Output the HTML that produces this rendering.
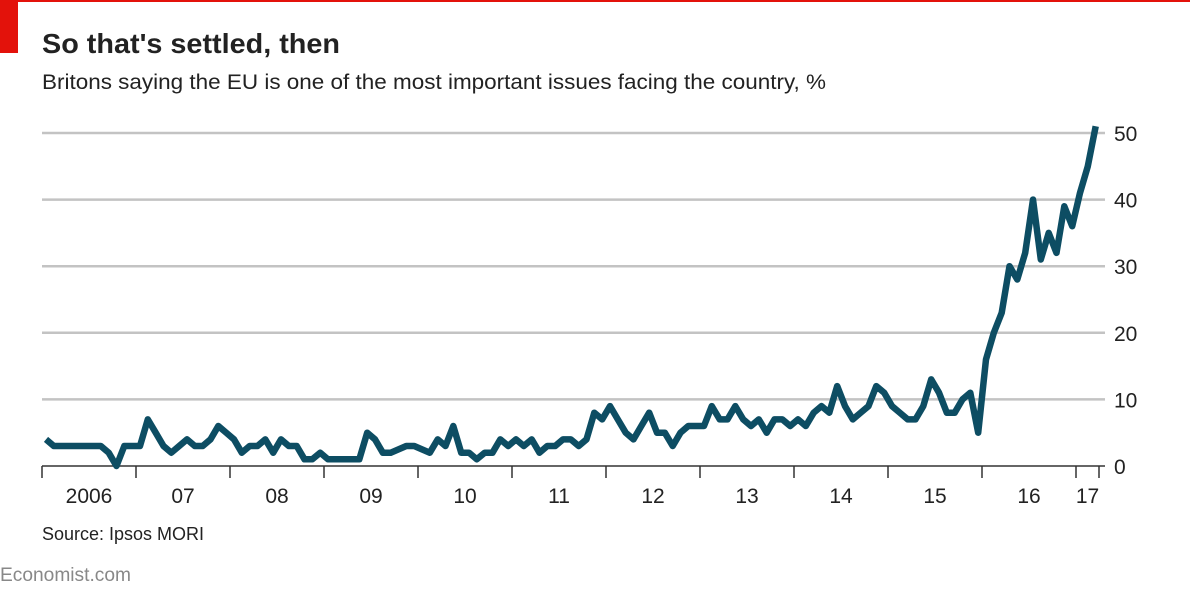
<!DOCTYPE html>
<html><head><meta charset="utf-8"><style>
html,body{margin:0;padding:0;background:#fff;}
svg{display:block;font-family:"Liberation Sans",sans-serif;}
</style></head><body>
<svg width="1190" height="592" viewBox="0 0 1190 592" xmlns="http://www.w3.org/2000/svg">
<rect x="0" y="0" width="1190" height="2" fill="#e3120b"/>
<rect x="0" y="0" width="18" height="53" fill="#e3120b"/>
<text x="42" y="53" font-size="28" font-weight="bold" fill="#222" textLength="298" lengthAdjust="spacingAndGlyphs">So that's settled, then</text>
<text x="42" y="89" font-size="21" fill="#222" textLength="784" lengthAdjust="spacingAndGlyphs">Britons saying the EU is one of the most important issues facing the country, %</text>
<g id="grid"></g>
<g id="yt"></g>
<g id="xa"></g>
<path id="line" fill="none" stroke="#0d4d63" stroke-width="6.5" stroke-linejoin="round"/>
<text x="42" y="540" font-size="18" fill="#222" textLength="162" lengthAdjust="spacingAndGlyphs">Source: Ipsos MORI</text>
<text x="0" y="581" font-size="19" fill="#888" textLength="131" lengthAdjust="spacingAndGlyphs">Economist.com</text>
</svg>
<script>
const yTicks=[0,10,20,30,40,50];
const yearLabels=["2006","07","08","09","10","11","12","13","14","15","16","17"];
const values=[
4,3,3,3,3,3,3,3,2,0,3,3,
3,7,5,3,2,3,4,3,3,4,6,5,
4,2,3,3,4,2,4,3,3,1,1,2,
1,1,1,1,1,5,4,2,2,2.5,3,3,
2.5,2,4,3,6,2,2,1,2,2,4,3,
4,3,4,2,3,3,4,4,3,4,8,7,
9,7,5,4,6,8,5,5,3,5,6,6,
6,9,7,7,9,7,6,7,5,7,7,6,
7,6,8,9,8,12,9,7,8,9,12,11,
9,8,7,7,9,13,11,8,8,10,11,5,
16,20,23,30,28,32,40,31,35,32,39,36,
41,45,51];
const NS="http://www.w3.org/2000/svg";
const x0=42, yearW=94.0;
const xm=i=>x0+4+i*yearW/12;
const y=v=>466-v*6.66;
const grid=document.getElementById('grid'), yt=document.getElementById('yt'), xa=document.getElementById('xa');
yTicks.forEach(t=>{
 if(t>0){const l=document.createElementNS(NS,'line');
 
 
 l.setAttribute('x1',42);l.setAttribute('x2',1105);l.setAttribute('y1',y(t));l.setAttribute('y2',y(t));
 l.setAttribute('stroke','#c3c3c3');l.setAttribute('stroke-width','2.5');grid.appendChild(l);}
 const tx=document.createElementNS(NS,'text');
 
 
 tx.setAttribute('x',1114);tx.setAttribute('y',y(t)+8);tx.setAttribute('font-size','21');tx.setAttribute('fill','#222');
 tx.textContent=t;yt.appendChild(tx);
});
const ax=document.createElementNS(NS,'line');


ax.setAttribute('x1',42);ax.setAttribute('x2',1105);ax.setAttribute('y1',466);ax.setAttribute('y2',466);
ax.setAttribute('stroke','#333');ax.setAttribute('stroke-width','1.5');xa.appendChild(ax);
const tickXs=yearLabels.map((_,i)=>x0+i*yearW).concat([1099]);
tickXs.forEach(tx0=>{const t=document.createElementNS(NS,'line');
 
 
 t.setAttribute('x1',tx0);t.setAttribute('x2',tx0);t.setAttribute('y1',466);t.setAttribute('y2',478);
 t.setAttribute('stroke','#333');t.setAttribute('stroke-width','1.5');xa.appendChild(t);});
yearLabels.forEach((lab,i)=>{
 const next=i<yearLabels.length-1?x0+(i+1)*yearW:1099;
 const cx=(x0+i*yearW+next)/2;
 const t=document.createElementNS(NS,'text');
 
 
 t.setAttribute('x',cx);t.setAttribute('y',503);t.setAttribute('font-size','21');t.setAttribute('fill','#222');t.setAttribute('text-anchor','middle');
 t.textContent=lab;xa.appendChild(t);});
document.getElementById('line').setAttribute('d',values.map((v,i)=>(i?'L':'M')+xm(i).toFixed(1)+' '+y(v).toFixed(1)).join(' '));
</script>
</body></html>
